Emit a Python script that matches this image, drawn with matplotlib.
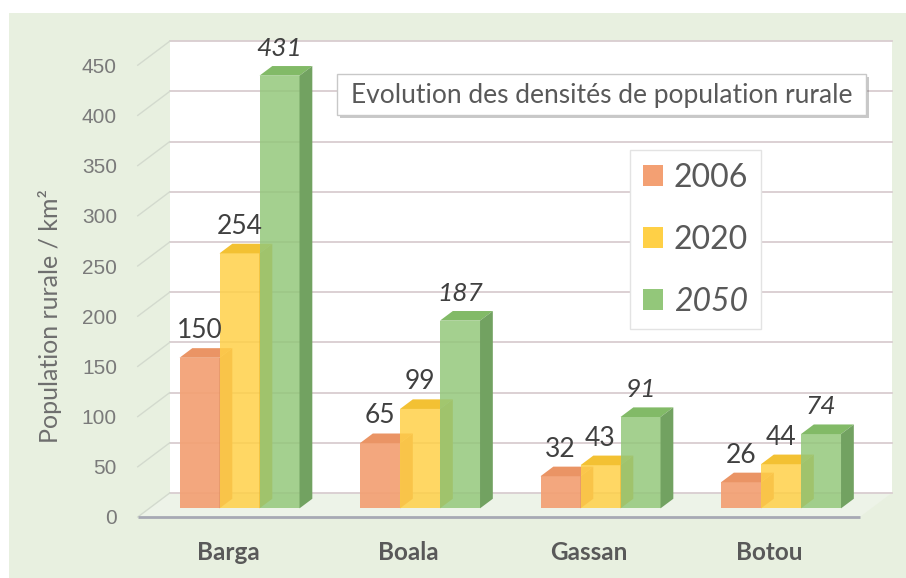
import matplotlib.pyplot as plt
from matplotlib.patches import Polygon, Rectangle, Patch
import matplotlib.patheffects as pe

plt.rcParams['font.family'] = ['Lato', 'DejaVu Sans']

communes = ["Barga", "Boala", "Gassan", "Botou"]
annees = ["2006", "2020", "2050"]
dens_2006 = [150, 65, 32, 26]
dens_2020 = [254, 99, 43, 44]
dens_2050 = [431, 187, 91, 74]
series = [dens_2006, dens_2020, dens_2050]
yticks = list(range(0, 451, 50))

# face colours for each year: front, top, side
couleurs = {
    "2006": ("#F3A073", "#EA9465", "#DE8C5C"),
    "2020": ("#FFD046", "#F3C133", "#E6B025"),
    "2050": ("#93C77A", "#82BA67", "#72A261"),
}

W, H = 906, 578
fig = plt.figure(figsize=(W / 100, H / 100), dpi=100)
fig.patch.set_facecolor("white")

# pixel <-> data helpers (category units horizontally, value units vertically)
X0, XS = 228, 180.5
Y0, YS = 517, 1.004
def px2x(p):
    return (p - X0) / XS
def py2v(p):
    return (Y0 - p) / YS

ax = fig.add_axes([0, 0, 1, 1])
ax.set_xlim(px2x(0), px2x(W))
ax.set_ylim(py2v(H), py2v(0))
ax.axis("off")

# green panel behind the chart
fig.patches.append(Rectangle((9 / W, 0), 1, 1 - 13 / H, transform=fig.transFigure,
                             facecolor="#E8F0E0", edgecolor="none", zorder=-5))

# 3D depth offsets (front plane -> back wall)
DX, DV = 32 / XS, 24 / YS
xa, xb = -0.5, 3.5

# back wall, floor, gridlines, side-wall lines
ax.add_patch(Rectangle((xa + DX, DV), xb - xa, yticks[-1], facecolor="white",
                       edgecolor="none", zorder=1))
ax.add_patch(Polygon([(xa, 0), (xb, 0), (xb + DX, DV), (xa + DX, DV)],
                     closed=True, facecolor="#EDF3E8", edgecolor="none", zorder=1))
for v in yticks:
    ax.plot([xa + DX, xb + DX], [v + DV, v + DV], color="#D9CDD0", lw=1.3, zorder=2)
    ax.plot([xa, xa + DX], [v, v + DV], color="#D3DACE", lw=1, zorder=2)
    ax.text(px2x(117), v, str(v), ha="right", va="center_baseline", fontsize=15,
            family="Liberation Sans", color="#7A7A7A")
ax.plot([xa, xb], [0, 0], color="#A7A9B4", lw=2, zorder=3, solid_capstyle="butt")

# bars
w = 40 / XS
d0, d1 = 0.36, 0.76
for i, commune in enumerate(communes):
    for j, annee in enumerate(annees):
        v = series[j][i]
        front, top, side = couleurs[annee]
        xl = i - 1.5 * w + j * w
        xr = xl + w
        z = 4 + 3 * j
        ax.add_patch(Rectangle((xl + d0 * DX, d0 * DV), w, v, facecolor=front,
                               edgecolor="none", alpha=0.84 if j else 0.92, zorder=z))
        ax.add_patch(Polygon([(xl + d0 * DX, v + d0 * DV), (xr + d0 * DX, v + d0 * DV),
                              (xr + d1 * DX, v + d1 * DV), (xl + d1 * DX, v + d1 * DV)],
                             closed=True, facecolor=top, edgecolor="none", zorder=z + 1))
        ax.add_patch(Polygon([(xr + d0 * DX, d0 * DV), (xr + d1 * DX, d1 * DV),
                              (xr + d1 * DX, v + d1 * DV), (xr + d0 * DX, v + d0 * DV)],
                             closed=True, facecolor=side, edgecolor="none", zorder=z + 1))
        ax.text(xl + w / 2 + d0 * DX, v + d1 * DV + 10, str(v), ha="center",
                va="baseline", fontsize=19, color="#404040",
                style="italic" if annee == "2050" else "normal", zorder=20)
    ax.text(i, py2v(552), commune, ha="center", va="center", fontsize=17.5,
            fontweight="bold", color="#595959")

# axis title
ax.text(px2x(50), py2v(316), "Population rurale / km²", rotation=90, ha="center",
        va="center", fontsize=18, color="#6E6E6E")

# title box
tb = Rectangle((px2x(337), py2v(115)), (866 - 337) / XS, (115 - 74) / YS,
               facecolor="white", edgecolor="#C8C8C8", lw=1, zorder=15)
tb.set_path_effects([pe.SimplePatchShadow(offset=(2, -2), alpha=0.3), pe.Normal()])
ax.add_patch(tb)
ax.text(px2x(602), py2v(95), "Evolution des densités de population rurale",
        ha="center", va="center", fontsize=19, color="#595959", zorder=16)

# legend
handles = [Patch(facecolor=couleurs[a][0], edgecolor="none") for a in annees]
leg = ax.legend(handles, annees, loc="upper left", bbox_to_anchor=(630 / W, 1 - 150 / H),
                bbox_transform=fig.transFigure, prop={"family": "Lato", "size": 23},
                frameon=True, fancybox=False, edgecolor="#E3E3E3", framealpha=1,
                labelspacing=1.0, handlelength=0.62, handleheight=0.62,
                handletextpad=0.35, borderpad=0.4, borderaxespad=0, labelcolor="#595959")
leg.get_texts()[2].set_style("italic")
leg.set_zorder(15)

fig.savefig("out.png", dpi=100)
